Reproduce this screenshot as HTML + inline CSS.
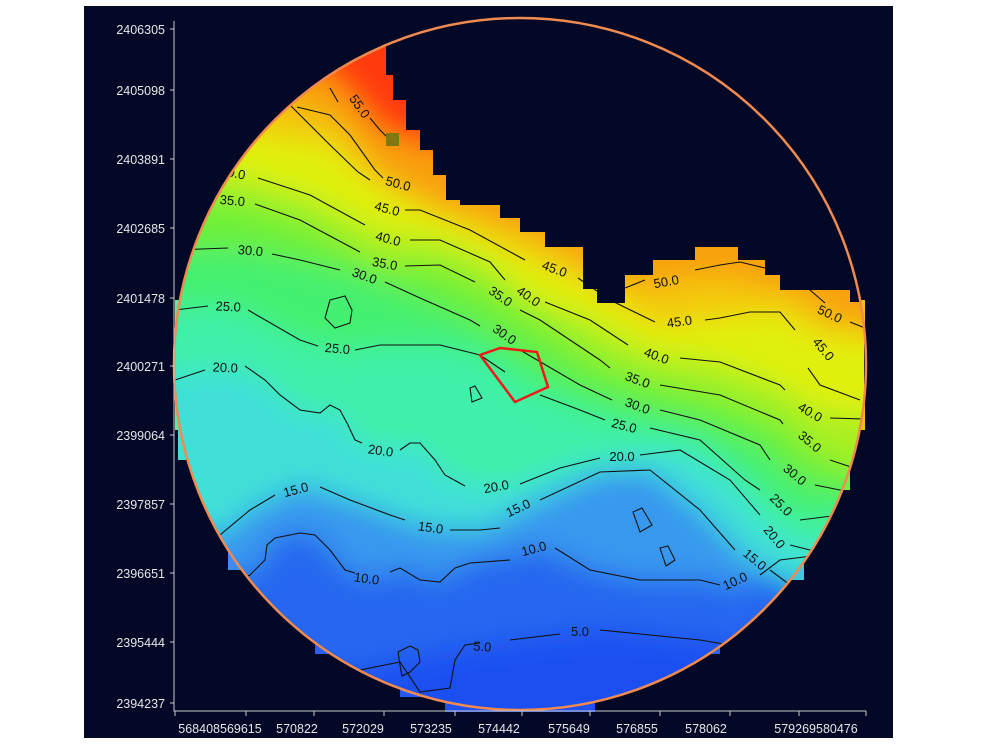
<!DOCTYPE html>
<html><head><style>
html,body{margin:0;padding:0;background:#fff;width:1000px;height:750px;overflow:hidden}
svg{display:block}
text{font-family:"Liberation Sans",sans-serif}
</style></head><body>
<svg width="1000" height="750" viewBox="0 0 1000 750">
<defs>
<clipPath id="cc"><circle cx="520" cy="364" r="346"/></clipPath>
<filter id="bl" x="-10%" y="-10%" width="120%" height="120%"><feGaussianBlur stdDeviation="14"/></filter>
</defs>
<rect x="84" y="6" width="809" height="732" fill="#020826"/>
<g>
<rect x="175" y="300" width="10" height="130" fill="#5ee8a0"/>
<rect x="178" y="430" width="8" height="30" fill="#40e0d0"/>
<rect x="228" y="545" width="14" height="25" fill="#3a8cf0"/>
<rect x="315" y="640" width="14" height="14" fill="#2a60f0"/>
<rect x="400" y="685" width="28" height="12" fill="#2458f0"/>
<rect x="445" y="700" width="150" height="12" fill="#2050f0"/>
<rect x="706" y="640" width="14" height="14" fill="#2a60f0"/>
<rect x="790" y="560" width="14" height="20" fill="#40c8e0"/>
<rect x="840" y="470" width="10" height="20" fill="#70f040"/>
<rect x="855" y="300" width="10" height="130" fill="#f0c010"/>
</g>
<g clip-path="url(#cc)">
<g filter="url(#bl)">
<rect x="100" y="0" width="850" height="750" fill="#1d4ff2"/>
<path d="M150,690 L300,682 400,662 460,648 600,630 700,640 760,650 900,650 L900,0 150,0Z" fill="#2866f0"/>
<path d="M150,570 L250,575 265,560 275,538 300,533 315,535 345,570 375,580 400,568 440,582 470,563 540,548 590,570 640,580 700,580 740,590 780,560 900,545 L900,0 150,0Z" fill="#3898ee"/>
<path d="M150,520 L220,535 250,510 300,485 350,500 420,525 480,530 540,500 600,472 650,470 700,510 750,560 790,585 900,600 L900,0 150,0Z" fill="#40e0d8"/>
<path d="M150,375 L230,368 265,380 300,410 320,413 340,410 355,440 395,450 420,443 445,475 500,488 560,468 620,455 680,450 730,480 770,530 810,550 900,560 L900,0 150,0Z" fill="#40f0a8"/>
<path d="M150,310 L230,305 300,340 340,350 380,345 440,345 480,355 530,390 580,410 630,425 700,440 760,490 800,520 840,515 900,520 L900,0 150,0Z" fill="#45f070"/>
<path d="M150,250 L240,248 300,260 360,275 420,298 470,320 520,350 580,385 640,405 700,420 760,445 800,480 840,490 900,495 L900,0 150,0Z" fill="#6ef038"/>
<path d="M150,195 L230,200 300,220 380,262 440,265 490,290 540,320 600,360 660,380 720,395 780,420 820,455 860,470 900,475 L900,0 150,0Z" fill="#a8f020"/>
<path d="M150,165 L240,175 310,195 380,232 440,240 490,262 530,298 590,320 650,352 720,362 780,385 820,410 900,420 L900,0 150,0Z" fill="#e0f010"/>
<path d="M150,120 L330,145 370,180 420,210 470,230 520,255 570,275 610,300 660,325 720,318 780,312 820,335 900,345 L900,0 150,0Z" fill="#f4c810"/>
<path d="M150,60 L300,107 330,115 355,140 380,175 440,205 520,230 600,270 640,285 720,275 790,292 840,320 900,330 L900,0 150,0Z" fill="#f8a010"/>
<path d="M150,20 L330,75 360,105 380,130 420,145 500,160 L500,0 150,0Z" fill="#ff3a0c"/>
</g>
<g fill="none" stroke="#111" stroke-width="1.1">
<path d="M150,690 L300,682 400,662 420,692 450,688 455,660 465,645 480,643 M510,640 L560,634 M600,630 L700,640 760,650 900,650"/>
<path d="M230,585 L250,575 265,560 267,545 275,538 300,533 315,535 330,550 345,570 355,573 M390,572 L400,568 420,580 440,582 455,568 470,563 510,560 M555,548 L590,570 640,580 700,580 720,585 M760,575 L780,560 900,545"/>
<path d="M190,560 L220,535 250,510 275,495 M320,487 L350,500 390,515 405,520 M450,530 L480,530 500,528 M540,500 L600,472 650,470 700,510 735,550 M770,570 L790,585 900,600"/>
<path d="M175,380 L205,370 M245,366 L265,380 280,395 300,410 320,413 330,405 340,410 348,425 355,440 362,443 M400,450 L410,443 420,443 435,460 445,475 465,486 M520,484 L560,468 600,458 M640,455 L680,450 730,480 760,515 M790,545 L810,550 900,560"/>
<path d="M175,310 L208,306 M248,310 L300,340 318,346 M355,350 L380,345 440,345 480,355 505,372 M540,395 L580,410 605,420 M650,428 L700,440 745,480 760,490 M800,520 L840,515 900,520"/>
<path d="M175,250 L228,248 M272,254 L300,260 340,270 M385,282 L420,298 470,320 480,326 M520,350 L580,385 612,400 M660,410 L700,420 760,445 770,460 M815,485 L840,490 900,495"/>
<path d="M175,195 L210,198 M255,204 L300,220 360,252 M405,266 L440,265 475,282 M520,310 L540,320 600,360 610,368 M660,385 L720,395 780,420 783,424 M830,460 L860,470 900,475"/>
<path d="M175,160 L208,168 M258,178 L310,195 365,225 M410,240 L440,240 490,262 505,280 M545,302 L590,320 628,345 M680,358 L720,362 780,385 785,390 M830,418 L900,420"/>
<path d="M290,105 L330,145 358,172 370,180 M405,210 L420,210 470,230 525,260 M578,278 L610,300 655,322 M705,320 L720,318 750,312 780,312 795,330 M808,368 L820,385 860,400"/>
<path d="M297,107 L330,115 350,135 375,170 383,178 M625,288 L645,280 M695,270 L720,265 740,262 765,268 M795,275 L810,290 825,303 M850,322 L870,330"/>
<path d="M330,88 L338,102 M370,118 L380,130 395,145"/>
<path d="M330,300 L345,296 352,310 350,323 335,328 325,318 Z"/>
<path d="M470,388 L475,386 482,398 472,402 Z"/>
<path d="M633,512 L642,508 652,525 640,532 Z"/>
<path d="M660,548 L668,546 675,560 666,566 Z"/>
<path d="M398,652 L410,646 418,650 420,662 410,672 402,676 400,665 Z"/>
</g>
<g font-size="13" fill="#111">
<text x="225" y="372" transform="rotate(3 225 372)" text-anchor="middle">20.0</text>
<text x="380" y="455" transform="rotate(8 380 455)" text-anchor="middle">20.0</text>
<text x="497" y="491" transform="rotate(-10 497 491)" text-anchor="middle">20.0</text>
<text x="622" y="461" text-anchor="middle">20.0</text>
<text x="771" y="540" transform="rotate(50 771 540)" text-anchor="middle">20.0</text>
<text x="297" y="494" transform="rotate(-15 297 494)" text-anchor="middle">15.0</text>
<text x="430" y="532" transform="rotate(8 430 532)" text-anchor="middle">15.0</text>
<text x="520" y="512" transform="rotate(-25 520 512)" text-anchor="middle">15.0</text>
<text x="752" y="563" transform="rotate(40 752 563)" text-anchor="middle">15.0</text>
<text x="366" y="583" transform="rotate(8 366 583)" text-anchor="middle">10.0</text>
<text x="535" y="553" transform="rotate(-15 535 553)" text-anchor="middle">10.0</text>
<text x="737" y="585" transform="rotate(-25 737 585)" text-anchor="middle">10.0</text>
<text x="482" y="651" transform="rotate(5 482 651)" text-anchor="middle">5.0</text>
<text x="580" y="636" text-anchor="middle">5.0</text>
<text x="228" y="311" transform="rotate(3 228 311)" text-anchor="middle">25.0</text>
<text x="337" y="353" transform="rotate(5 337 353)" text-anchor="middle">25.0</text>
<text x="623" y="430" transform="rotate(15 623 430)" text-anchor="middle">25.0</text>
<text x="778" y="508" transform="rotate(45 778 508)" text-anchor="middle">25.0</text>
<text x="250" y="255" transform="rotate(5 250 255)" text-anchor="middle">30.0</text>
<text x="363" y="280" transform="rotate(20 363 280)" text-anchor="middle">30.0</text>
<text x="502" y="338" transform="rotate(35 502 338)" text-anchor="middle">30.0</text>
<text x="636" y="410" transform="rotate(20 636 410)" text-anchor="middle">30.0</text>
<text x="792" y="478" transform="rotate(40 792 478)" text-anchor="middle">30.0</text>
<text x="232" y="205" transform="rotate(5 232 205)" text-anchor="middle">35.0</text>
<text x="384" y="268" transform="rotate(10 384 268)" text-anchor="middle">35.0</text>
<text x="498" y="300" transform="rotate(35 498 300)" text-anchor="middle">35.0</text>
<text x="636" y="384" transform="rotate(20 636 384)" text-anchor="middle">35.0</text>
<text x="807" y="445" transform="rotate(40 807 445)" text-anchor="middle">35.0</text>
<text x="232" y="177" transform="rotate(12 232 177)" text-anchor="middle">40.0</text>
<text x="387" y="243" transform="rotate(15 387 243)" text-anchor="middle">40.0</text>
<text x="526" y="300" transform="rotate(35 526 300)" text-anchor="middle">40.0</text>
<text x="655" y="360" transform="rotate(20 655 360)" text-anchor="middle">40.0</text>
<text x="808" y="416" transform="rotate(30 808 416)" text-anchor="middle">40.0</text>
<text x="386" y="213" transform="rotate(15 386 213)" text-anchor="middle">45.0</text>
<text x="553" y="273" transform="rotate(20 553 273)" text-anchor="middle">45.0</text>
<text x="680" y="326" transform="rotate(-8 680 326)" text-anchor="middle">45.0</text>
<text x="820" y="352" transform="rotate(50 820 352)" text-anchor="middle">45.0</text>
<text x="397" y="188" transform="rotate(15 397 188)" text-anchor="middle">50.0</text>
<text x="667" y="286" transform="rotate(-10 667 286)" text-anchor="middle">50.0</text>
<text x="828" y="318" transform="rotate(25 828 318)" text-anchor="middle">50.0</text>
<text x="356" y="109" transform="rotate(55 356 109)" text-anchor="middle">55.0</text>
</g>
<path d="M386,0 L386,75 393,75 393,100 406,100 406,130 420,130 420,150 433,150 433,175 446,175 446,200 460,200 460,205 500,205 500,218 520,218 520,232 545,232 545,247 583,247 583,289 597,289 597,303 625,303 625,275 653,275 653,260 695,260 695,247 738,247 738,260 765,260 765,275 780,275 780,290 850,290 850,302 864,302 864,431 900,431 900,0Z" fill="#020826"/>
<rect x="386" y="133" width="13" height="13" fill="#7a7a10"/>
</g>
<path d="M480,355 L500,348 537,352 548,387 515,402 Z" fill="none" stroke="#f01818" stroke-width="2.5"/>
<circle cx="520" cy="364" r="346" fill="none" stroke="#f08a50" stroke-width="2.5"/>
<g stroke="#c8c8c8" stroke-width="1" fill="none">
<path d="M174,21 V711 H866"/>
<path d="M170,29 H174 M170,90 H174 M170,159 H174 M170,228 H174 M170,298 H174 M170,366 H174 M170,435 H174 M170,504 H174 M170,573 H174 M170,642 H174 M170,703 H174"/>
<path d="M175,711 V716 M246,711 V716 M314,711 V716 M384,711 V716 M455,711 V716 M522,711 V716 M590,711 V716 M660,711 V716 M730,711 V716 M799,711 V716 M866,711 V716"/>
</g>
<g font-size="12.5" fill="#e6e6e6" text-anchor="end">
<text x="165" y="34">2406305</text><text x="165" y="95">2405098</text><text x="165" y="164">2403891</text>
<text x="165" y="233">2402685</text><text x="165" y="303">2401478</text><text x="165" y="371">2400271</text>
<text x="165" y="440">2399064</text><text x="165" y="509">2397857</text><text x="165" y="578">2396651</text>
<text x="165" y="647">2395444</text><text x="165" y="708">2394237</text>
</g>
<g font-size="12.5" fill="#e6e6e6" text-anchor="middle">
<text x="220" y="733">568408569615</text><text x="297" y="733">570822</text><text x="363" y="733">572029</text>
<text x="431" y="733">573235</text><text x="499" y="733">574442</text><text x="569" y="733">575649</text>
<text x="637" y="733">576855</text><text x="706" y="733">578062</text><text x="816" y="733">579269580476</text>
</g>
</svg>
</body></html>
